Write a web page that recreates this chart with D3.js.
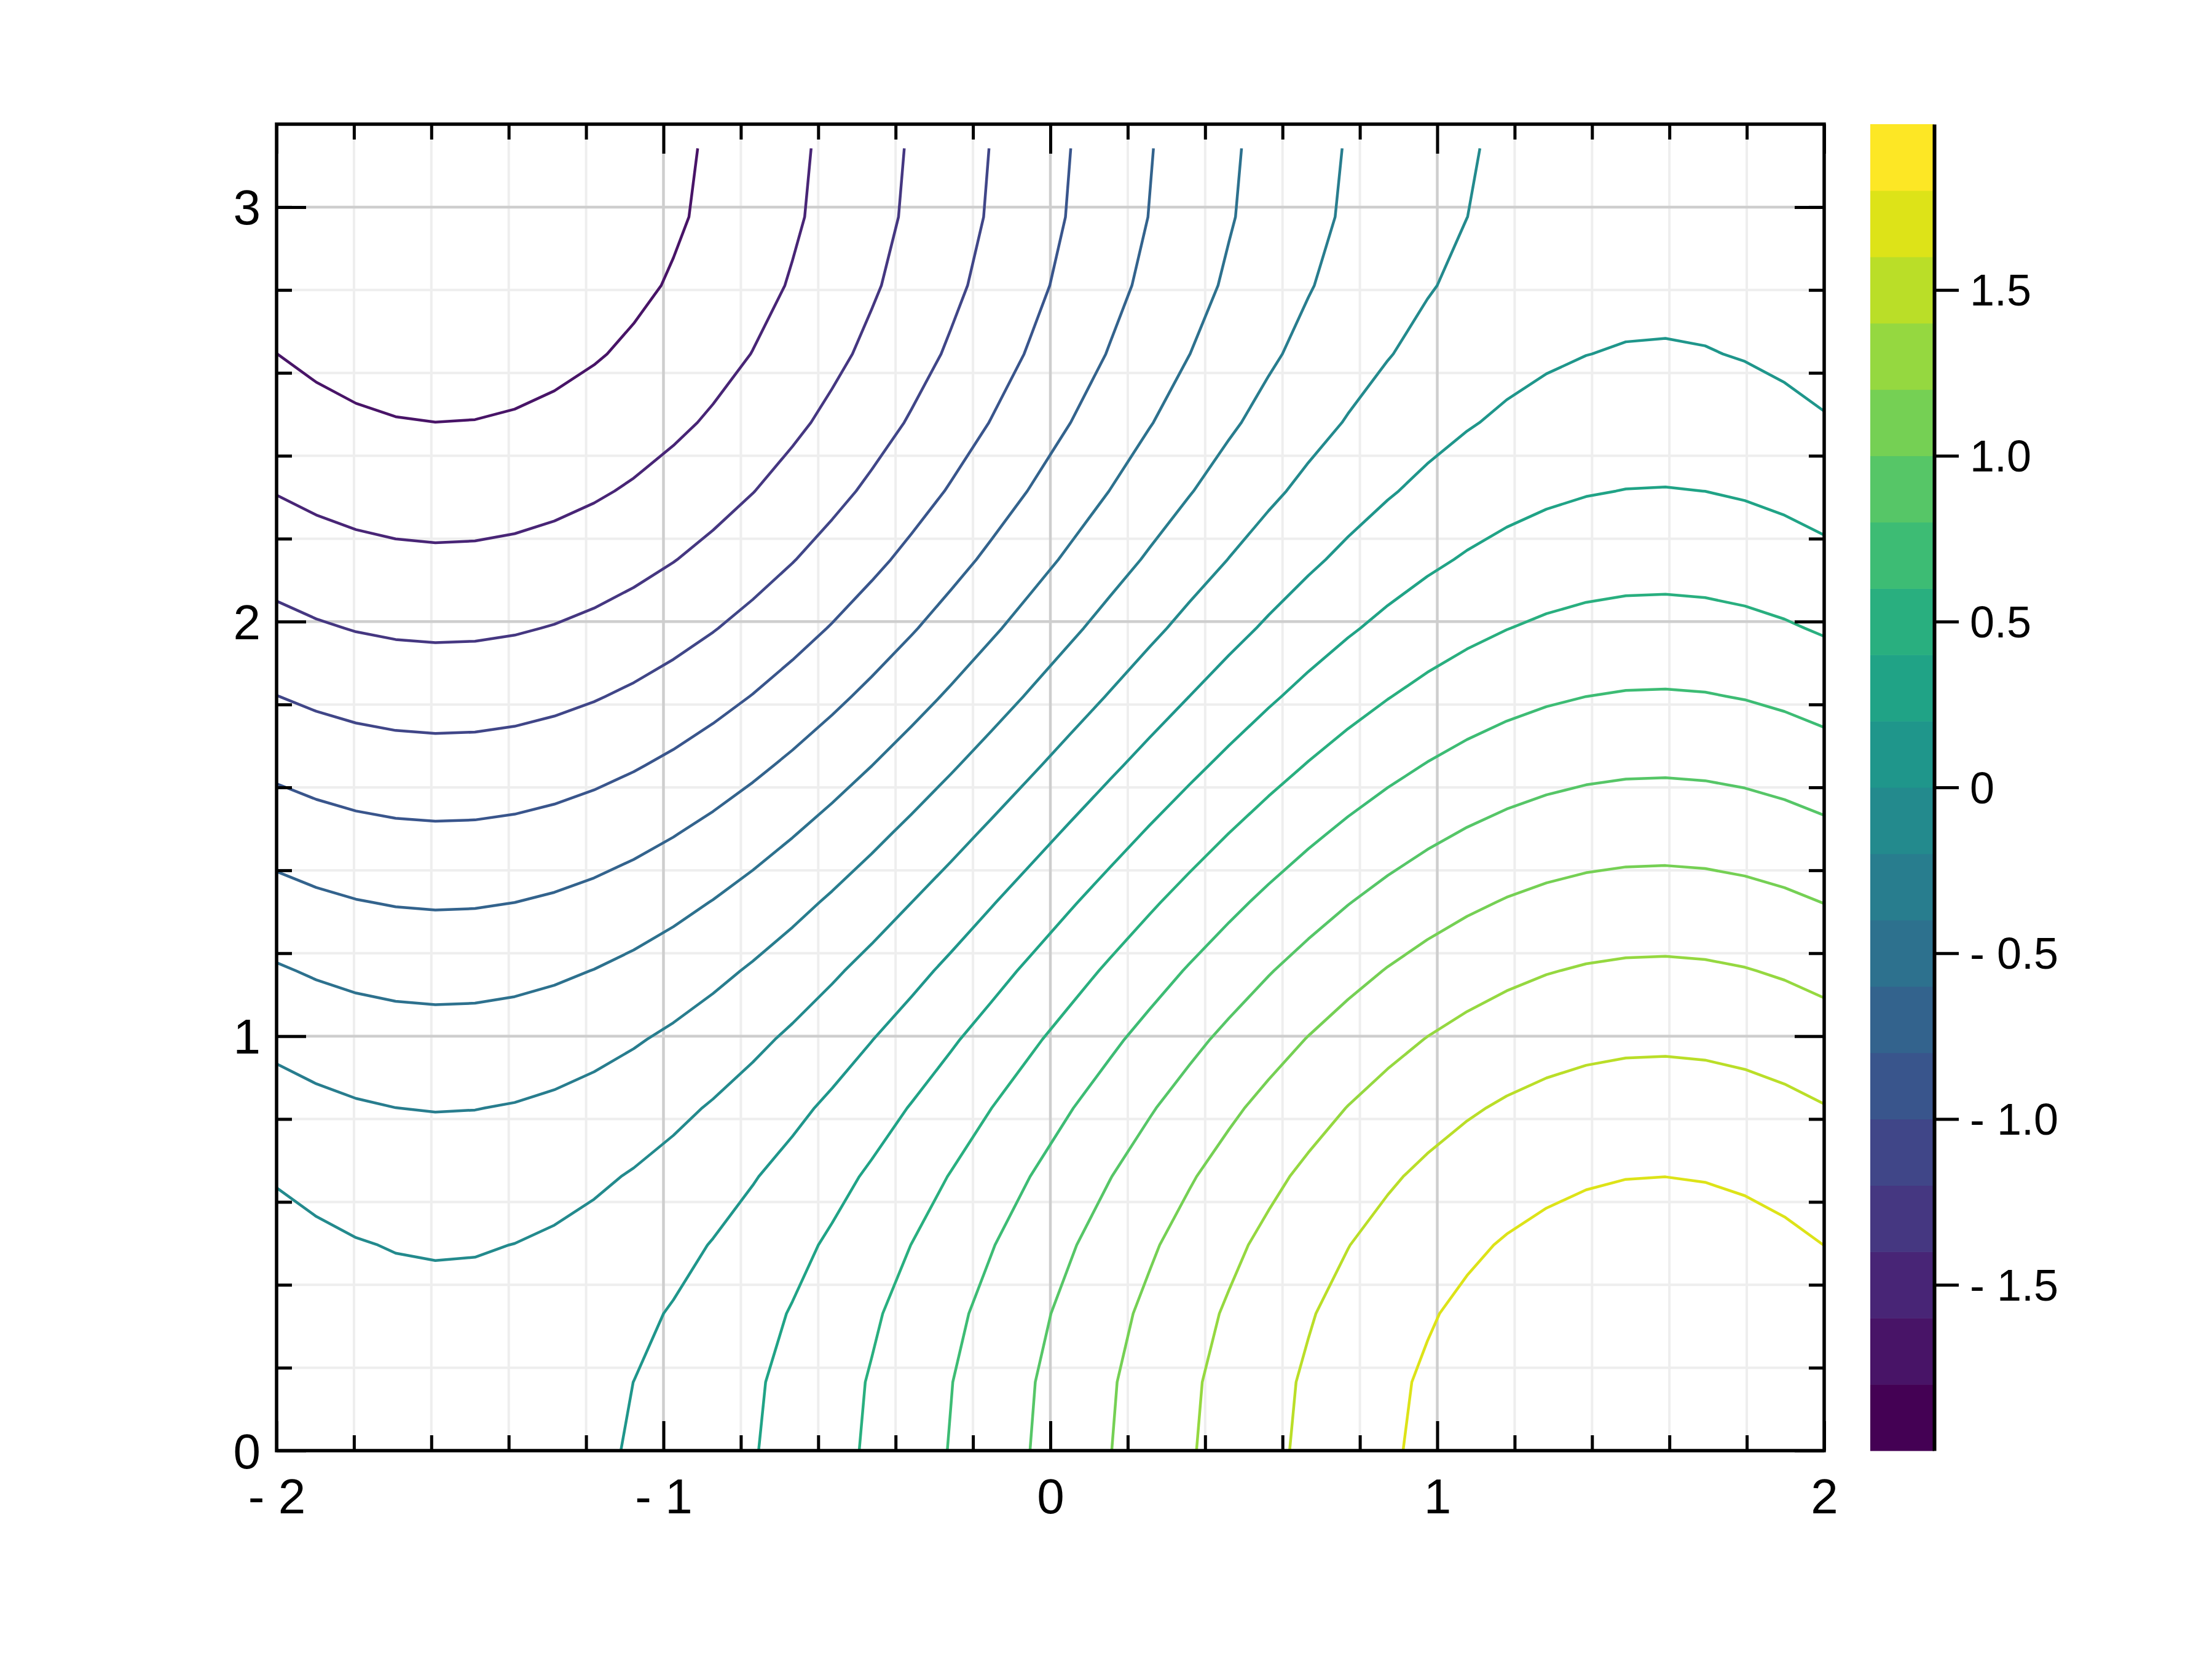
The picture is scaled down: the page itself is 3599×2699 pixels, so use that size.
<!DOCTYPE html>
<html>
<head>
<meta charset="utf-8">
<script src="https://cdn.jsdelivr.net/npm/d3@7"></script>
<style>
  html, body { margin: 0; padding: 0; background: #ffffff; }
  svg { display: block; }
</style>
</head>
<body>
<svg id="chart" width="3599" height="2699"></svg>
<script>
// ---------------- data ----------------
// sample grid (x: 40 points over [-2, 2], y: 20 points over [0, π])
const xGrid = [-2, -1.8974, -1.7949, -1.6923, -1.5897, -1.4872, -1.3846, -1.2821, -1.1795, -1.0769,
  -0.9744, -0.8718, -0.7692, -0.6667, -0.5641, -0.4615, -0.3590, -0.2564, -0.1538, -0.0513,
  0.0513, 0.1538, 0.2564, 0.3590, 0.4615, 0.5641, 0.6667, 0.7692, 0.8718, 0.9744,
  1.0769, 1.1795, 1.2821, 1.3846, 1.4872, 1.5897, 1.6923, 1.7949, 1.8974, 2];
const yGrid = [0, 0.1653, 0.3307, 0.4960, 0.6614, 0.8267, 0.9921, 1.1574, 1.3228, 1.4881,
  1.6535, 1.8188, 1.9842, 2.1495, 2.3149, 2.4802, 2.6456, 2.8109, 2.9762, 3.1416];
// the surface is the sum of a column profile and a row profile
const xComponent = [-0.909297, -0.947126, -0.975000, -0.992627, -0.999820, -0.996506, -0.982718, -0.958602, -0.924411, -0.880503,
  -0.827342, -0.765485, -0.695583, -0.618370, -0.534658, -0.445326, -0.351314, -0.253610, -0.153239, -0.051260,
  0.051260, 0.153239, 0.253610, 0.351314, 0.445326, 0.534658, 0.618370, 0.695583, 0.765485, 0.827342,
  0.880503, 0.924411, 0.958602, 0.982718, 0.996506, 0.999820, 0.992627, 0.975000, 0.947126, 0.909297];
const yComponent = [1, 0.986361, 0.945817, 0.879474, 0.789141, 0.677282, 0.546948, 0.401695, 0.245485, 0.082579,
  -0.082579, -0.245485, -0.401695, -0.546948, -0.677282, -0.789141, -0.879474, -0.945817, -0.986361, -1];
const contourLevels = [-1.789474, -1.578947, -1.368421, -1.157895, -0.947368, -0.736842, -0.526316, -0.315789, -0.105263,
  0.105263, 0.315789, 0.526316, 0.736842, 0.947368, 1.157895, 1.368421, 1.578947, 1.789474];
const colorRange = [-2, 2];
const colorbarEdges = [-2, -1.8, -1.6, -1.4, -1.2, -1, -0.8, -0.6, -0.4, -0.2, 0, 0.2, 0.4, 0.6, 0.8, 1, 1.2, 1.4, 1.6, 1.8, 2];

const xDomain = [-2, 2];
const yDomain = [0, 3.2];
const xTickValues = [-2, -1, 0, 1, 2];
const xTickLabels = ["- 2", "- 1", "0", "1", "2"];
const xMinorValues = [-1.8, -1.6, -1.4, -1.2, -0.8, -0.6, -0.4, -0.2, 0.2, 0.4, 0.6, 0.8, 1.2, 1.4, 1.6, 1.8];
const yTickValues = [0, 1, 2, 3];
const yTickLabels = ["0", "1", "2", "3"];
const yMinorValues = [0.2, 0.4, 0.6, 0.8, 1.2, 1.4, 1.6, 1.8, 2.2, 2.4, 2.6, 2.8, 3.0];
const cbTickValues = [-1.5, -1, -0.5, 0, 0.5, 1, 1.5];
const cbTickLabels = ["- 1.5", "- 1.0", "- 0.5", "0", "0.5", "1.0", "1.5"];

// ---------------- layout ----------------
const L = 450, R = 2968, T = 202, B = 2360;
const CBL = 3043, CBR = 3147;
const FONT = "'Liberation Sans', Arial, Helvetica, sans-serif";
const majorLen = 48, minorLen = 25;

const svg = d3.select("#chart");
svg.append("rect").attr("width", 3599).attr("height", 2699).attr("fill", "#ffffff");

const x = d3.scaleLinear().domain(xDomain).range([L, R]);
const y = d3.scaleLinear().domain(yDomain).range([B, T]);
const cy = d3.scaleLinear().domain(colorRange).range([B, T]);
const color = v => d3.interpolateViridis((v - colorRange[0]) / (colorRange[1] - colorRange[0]));

// ---------------- grid ----------------
const grid = svg.append("g");
grid.selectAll("line.xminor").data(xMinorValues).join("line")
  .attr("x1", d => x(d)).attr("x2", d => x(d)).attr("y1", T).attr("y2", B)
  .attr("stroke", "#eeeeee").attr("stroke-width", 4);
grid.selectAll("line.yminor").data(yMinorValues).join("line")
  .attr("x1", L).attr("x2", R).attr("y1", d => y(d)).attr("y2", d => y(d))
  .attr("stroke", "#eeeeee").attr("stroke-width", 4);
grid.selectAll("line.xmajor").data(xTickValues).join("line")
  .attr("x1", d => x(d)).attr("x2", d => x(d)).attr("y1", T).attr("y2", B)
  .attr("stroke", "#cecece").attr("stroke-width", 4.5);
grid.selectAll("line.ymajor").data(yTickValues).join("line")
  .attr("x1", L).attr("x2", R).attr("y1", d => y(d)).attr("y2", d => y(d))
  .attr("stroke", "#cecece").attr("stroke-width", 4.5);

// ---------------- contours ----------------
const nx = xGrid.length, ny = yGrid.length;
const values = new Array(nx * ny);
for (let j = 0; j < ny; j++) for (let i = 0; i < nx; i++) values[j * nx + i] = xComponent[i] + yComponent[j];

const gx = d3.scaleLinear().domain([0.5, nx - 0.5]).range([xGrid[0], xGrid[nx - 1]]);
const gy = d3.scaleLinear().domain([0.5, ny - 0.5]).range([yGrid[0], yGrid[ny - 1]]);
const eps = 1e-9;
const inside = p => p[0] >= 0.5 - eps && p[0] <= nx - 0.5 + eps && p[1] >= 0.5 - eps && p[1] <= ny - 0.5 + eps;

function openLines(ring) {
  const pts = ring.slice(0, -1);
  const n = pts.length;
  const start = pts.findIndex(p => !inside(p));
  if (start < 0) return [ring];
  const lines = [];
  let cur = [];
  for (let k = 1; k <= n; k++) {
    const p = pts[(start + k) % n];
    if (inside(p)) cur.push(p);
    else { if (cur.length > 1) lines.push(cur); cur = []; }
  }
  if (cur.length > 1) lines.push(cur);
  return lines;
}

const contours = d3.contours().size([nx, ny]).thresholds(contourLevels)(values);
const isolines = [];
contours.forEach(c => {
  c.coordinates.forEach(poly => poly.forEach(ring => {
    openLines(ring).forEach(line => isolines.push({ value: c.value, points: line }));
  }));
});

const lineGen = d3.line().x(p => x(gx(p[0]))).y(p => y(gy(p[1])));
svg.append("g").selectAll("path").data(isolines).join("path")
  .attr("d", d => lineGen(d.points))
  .attr("fill", "none")
  .attr("stroke", d => color(d.value))
  .attr("stroke-width", 4.5)
  .attr("stroke-linejoin", "round");

// ---------------- frame & ticks ----------------
const axes = svg.append("g");
function styleAxis(g) {
  g.select(".domain").remove();
  g.selectAll(".tick line").attr("stroke", "#000").attr("stroke-width", 5);
  g.selectAll(".tick text").attr("fill", "#000").attr("font-family", FONT);
}
// bottom
axes.append("g").attr("transform", `translate(0,${B})`)
  .call(d3.axisBottom(x).tickValues(xMinorValues).tickSize(-minorLen).tickFormat("")).call(styleAxis);
axes.append("g").attr("transform", `translate(0,${B})`)
  .call(d3.axisBottom(x).tickValues(xTickValues).tickSize(-majorLen).tickPadding(0)
    .tickFormat((d, i) => xTickLabels[i])).call(styleAxis)
  .selectAll(".tick text").attr("font-size", 80).attr("dy", null).attr("y", 102);
// top
axes.append("g").attr("transform", `translate(0,${T})`)
  .call(d3.axisTop(x).tickValues(xMinorValues).tickSize(-minorLen).tickFormat("")).call(styleAxis);
axes.append("g").attr("transform", `translate(0,${T})`)
  .call(d3.axisTop(x).tickValues(xTickValues).tickSize(-majorLen).tickFormat("")).call(styleAxis);
// left
axes.append("g").attr("transform", `translate(${L},0)`)
  .call(d3.axisLeft(y).tickValues(yMinorValues).tickSize(-minorLen).tickFormat("")).call(styleAxis);
axes.append("g").attr("transform", `translate(${L},0)`)
  .call(d3.axisLeft(y).tickValues(yTickValues).tickSize(-majorLen).tickPadding(0)
    .tickFormat((d, i) => yTickLabels[i])).call(styleAxis)
  .selectAll(".tick text").attr("font-size", 80).attr("dy", null).attr("x", -26).attr("y", 28);
// right
axes.append("g").attr("transform", `translate(${R},0)`)
  .call(d3.axisRight(y).tickValues(yMinorValues).tickSize(-minorLen).tickFormat("")).call(styleAxis);
axes.append("g").attr("transform", `translate(${R},0)`)
  .call(d3.axisRight(y).tickValues(yTickValues).tickSize(-majorLen).tickFormat("")).call(styleAxis);

axes.append("rect").attr("x", L).attr("y", T).attr("width", R - L).attr("height", B - T)
  .attr("fill", "none").attr("stroke", "#000").attr("stroke-width", 5.5);

// ---------------- colorbar ----------------
const cb = svg.append("g");
const bands = d3.pairs(colorbarEdges);
cb.selectAll("rect").data(bands).join("rect")
  .attr("x", CBL).attr("width", CBR - CBL)
  .attr("y", d => cy(d[1])).attr("height", d => cy(d[0]) - cy(d[1]) + 0.6)
  .attr("fill", (d, i) => d3.interpolateViridis(i / (bands.length - 1)));
cb.append("g").attr("transform", `translate(${CBR},0)`)
  .call(d3.axisRight(cy).tickValues(cbTickValues).tickSizeInner(40).tickSizeOuter(0).tickPadding(18)
    .tickFormat((d, i) => cbTickLabels[i]))
  .call(g => {
    g.select(".domain").attr("stroke", "#000").attr("stroke-width", 6);
    g.selectAll(".tick line").attr("stroke", "#000").attr("stroke-width", 5);
    g.selectAll(".tick text").attr("fill", "#000").attr("font-family", FONT)
      .attr("font-size", 72).attr("dy", null).attr("y", 25);
  });
</script>
</body>
</html>
